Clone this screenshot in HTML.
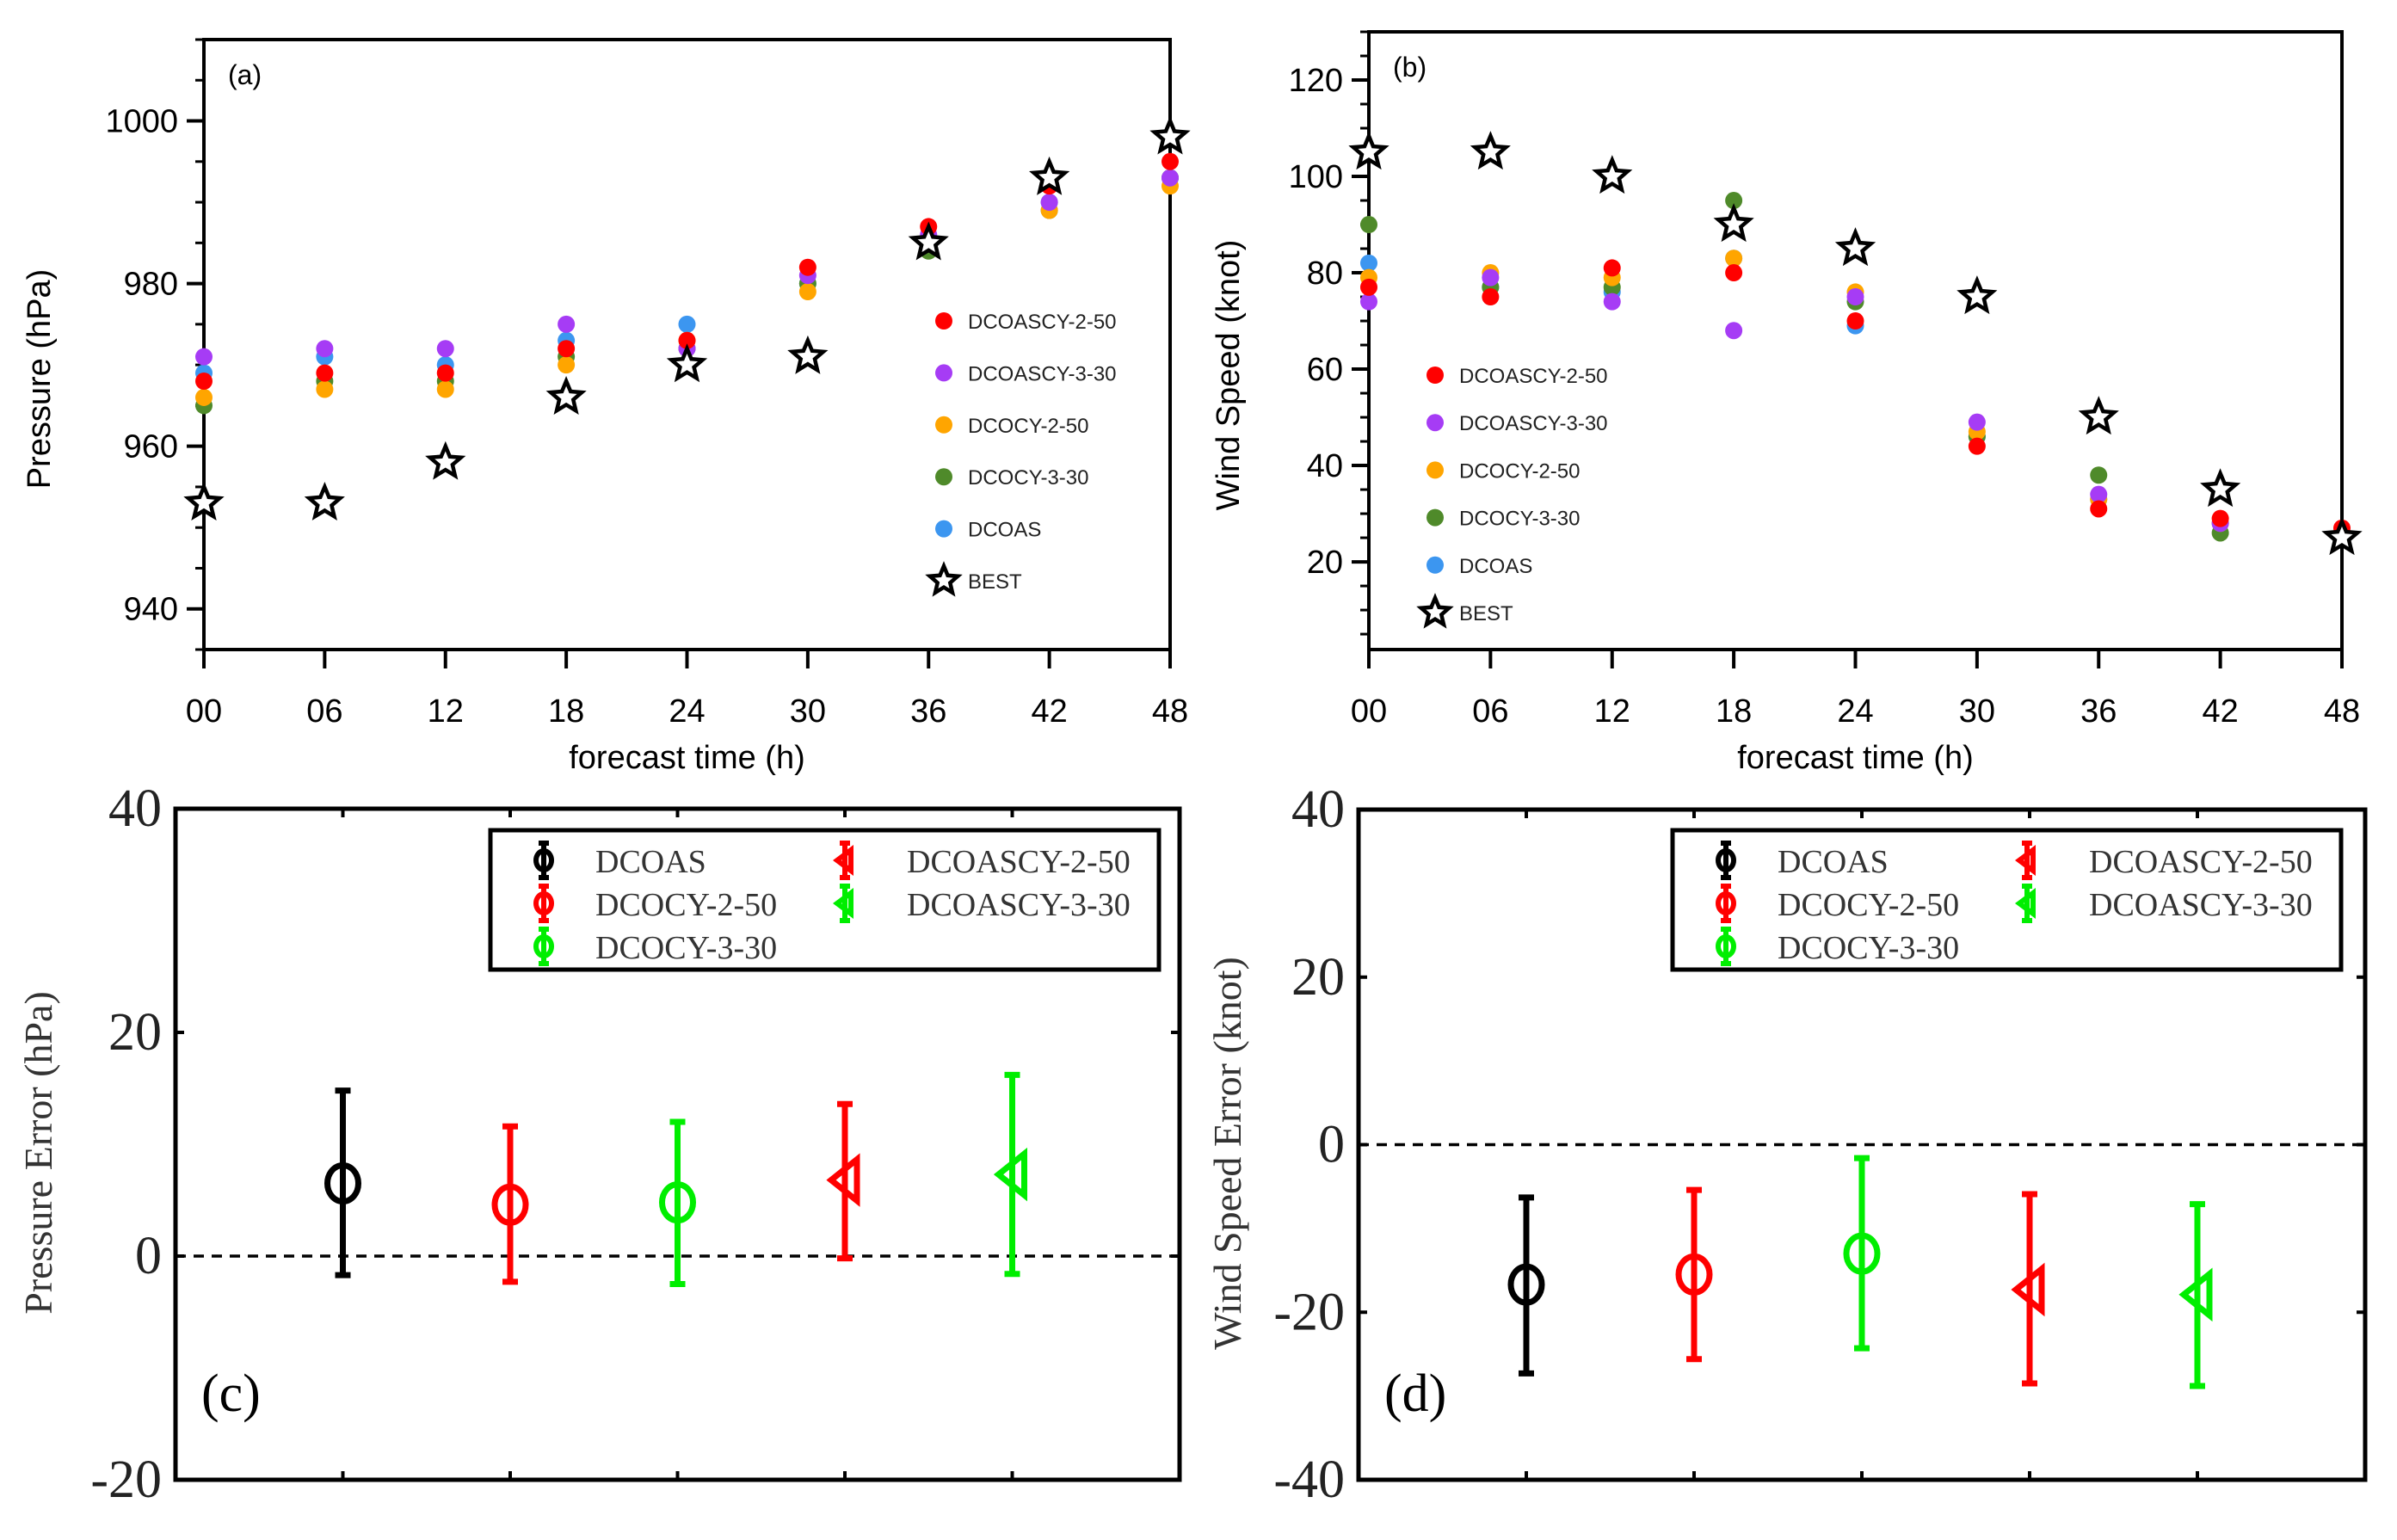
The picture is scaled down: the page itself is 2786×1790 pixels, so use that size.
<!DOCTYPE html>
<html><head><meta charset="utf-8"><style>
html,body{margin:0;padding:0;background:#fff;}
svg{display:block;}
.sans{font-family:"Liberation Sans",sans-serif;}
.serif{font-family:"Liberation Serif",serif;}
</style></head><body>
<svg id="fig" width="2786" height="1790" viewBox="0 0 2786 1790" xmlns="http://www.w3.org/2000/svg"></svg>
<script>
const times = [0,6,12,18,24,30,36,42,48];
const timeLabels = ["00","06","12","18","24","30","36","42","48"];
const seriesNames = ["DCOASCY-2-50","DCOASCY-3-30","DCOCY-2-50","DCOCY-3-30","DCOAS"];
const seriesColors = ["#ff0000","#a63cf5","#ffa500","#4f8a2a","#3c96f0"];
const presRed = [968,969,969,972,973,982,987,992,995];
const presPurple = [971,972,972,975,972,981,986,990,993];
const presOrange = [966,967,967,970,973,979,985,989,992];
const presGreen = [965,968,968,971,972,980,984,989,993];
const presBlue = [969,971,970,973,975,980,985,990,993];
const presBest = [953,953,958,966,970,971,985,993,998];
const presTicks = [940,960,980,1000];
const windRed = [77,75,81,80,70,44,31,29,27];
const windPurple = [74,79,74,68,75,49,34,28,26];
const windOrange = [79,80,79,83,76,47,33,28,26];
const windGreen = [90,77,77,95,74,46,38,26,26];
const windBlue = [82,77,76,83,69,46,33,28,26];
const windBest = [105,105,100,90,85,75,50,35,25];
const windTicks = [20,40,60,80,100,120];
const errNames = ["DCOAS","DCOCY-2-50","DCOCY-3-30","DCOASCY-2-50","DCOASCY-3-30"];
const errColors = ["#000000","#ff0000","#00ee00","#ff0000","#00ee00"];
const errMarkers = ["circle","circle","circle","tri","tri"];
const presErrMean = [6.5,4.6,4.8,6.8,7.3];
const presErrLow = [-1.7,-2.3,-2.5,-0.2,-1.6];
const presErrHigh = [14.8,11.6,12.0,13.6,16.2];
const presErrTicks = [-20,0,20,40];
const windErrMean = [-16.7,-15.5,-13,-17.3,-17.9];
const windErrLow = [-27.3,-25.6,-24.3,-28.5,-28.8];
const windErrHigh = [-6.3,-5.4,-1.6,-5.9,-7.1];
const windErrTicks = [-40,-20,0,20,40];

const NS="http://www.w3.org/2000/svg";
const svg=document.getElementById('fig');
function el(tag,attrs,parent,text){const e=document.createElementNS(NS,tag);for(const k in attrs)e.setAttribute(k,attrs[k]);if(text!==undefined)e.textContent=text;(parent||svg).appendChild(e);return e;}
function starPath(cx,cy,R){const r=R*0.45;let d='';for(let i=0;i<10;i++){const a=-Math.PI/2+i*Math.PI/5;const rr=i%2?r:R;d+=(i?'L':'M')+(cx+rr*Math.cos(a)).toFixed(1)+' '+(cy+rr*Math.sin(a)).toFixed(1);}return d+'Z';}

function scatterPanel(o){
  const g=el('g',{});
  
  
  const X=t=>o.L+(t-0)/(48)*(o.R-o.L);
  const Y=v=>o.B-(v-o.ymin)/(o.ymax-o.ymin)*(o.B-o.T);
  const frame=el('rect',{x:o.L,y:o.T,width:o.R-o.L,height:o.B-o.T,fill:'none',stroke:'#000','stroke-width':4},g);
  
  
  for(let v=Math.ceil(o.ymin/o.minor)*o.minor; v<=o.ymax; v+=o.minor){
    el('line',{x1:o.L-10,x2:o.L,y1:Y(v),y2:Y(v),stroke:'#000','stroke-width':3},g);
  }
  o.ticks.forEach(v=>{
    el('line',{x1:o.L-20,x2:o.L,y1:Y(v),y2:Y(v),stroke:'#000','stroke-width':4},g);
    const t=el('text',{x:o.L-30,y:Y(v)+13,'text-anchor':'end','font-size':38,class:'sans'},g,String(v));
    
    
  });
  times.forEach((tm,i)=>{
    el('line',{x1:X(tm),x2:X(tm),y1:o.B,y2:o.B+22,stroke:'#000','stroke-width':4},g);
    const t=el('text',{x:X(tm),y:o.B+84,'text-anchor':'middle','font-size':38,class:'sans'},g,timeLabels[i]);
    
    
  });
  const xl=el('text',{x:(o.L+o.R)/2,y:o.B+138,'text-anchor':'middle','font-size':38,class:'sans'},g,'forecast time (h)');
  
  
  const yl=el('text',{x:0,y:0,'text-anchor':'middle','font-size':38,class:'sans',transform:`translate(${o.ylx},${(o.T+o.B)/2+40}) rotate(-90)`},g,o.ylabel);
  
  
  const pl=el('text',{x:o.L+28,y:o.T+52,'font-size':32,class:'sans'},g,o.panel);
  
  
  const order=[4,3,2,1,0];
  order.forEach(si=>{
    o.series[si].forEach((v,i)=>{
      const c=el('circle',{cx:X(times[i]),cy:Y(v),r:10,fill:seriesColors[si]},g);
      
      
    });
  });
  o.best.forEach((v,i)=>{
    const s=el('path',{d:starPath(X(times[i]),Y(v),19),fill:'#fff',stroke:'#000','stroke-width':4.5,'stroke-linejoin':'miter'},g);
    
    
  });
  seriesNames.forEach((n,i)=>{
    const y=o.legY+i*o.legDy;
    const c=el('circle',{cx:o.legX,cy:y,r:10,fill:seriesColors[i]},g);
    
    
    const t=el('text',{x:o.legX+28,y:y+9,'font-size':24,class:'sans',fill:'#222'},g,n);
    
    
  });
  const y5=o.legY+5*o.legDy;
  el('path',{d:starPath(o.legX,y5,17),fill:'#fff',stroke:'#000','stroke-width':4.5},g);
  const bt=el('text',{x:o.legX+28,y:y5+9,'font-size':24,class:'sans',fill:'#222'},g,'BEST');
  
  
}

scatterPanel({name:'panel-a-pressure',L:237,R:1360,T:46,B:755,ymin:935,ymax:1010,minor:5,ticks:presTicks,
  series:[presRed,presPurple,presOrange,presGreen,presBlue],best:presBest,ylabel:'Pressure (hPa)',ylx:58,panel:'(a)',
  legX:1097,legY:373,legDy:60.4});
scatterPanel({name:'panel-b-wind-speed',L:1591,R:2722,T:37,B:755,ymin:1.8,ymax:130,minor:5,ticks:windTicks,
  series:[windRed,windPurple,windOrange,windGreen,windBlue],best:windBest,ylabel:'Wind Speed (knot)',ylx:1440,panel:'(b)',
  legX:1668,legY:436,legDy:55.2});

function errPanel(o){
  const g=el('g',{});
  
  
  const X=c=>o.L+(c+1)*(o.R-o.L)/6;
  const Y=v=>o.B-(v-o.ymin)/(o.ymax-o.ymin)*(o.B-o.T);
  const fr=el('rect',{x:o.L,y:o.T,width:o.R-o.L,height:o.B-o.T,fill:'none',stroke:'#000','stroke-width':5},g);
  
  
  o.ticks.forEach(v=>{
    el('line',{x1:o.L,x2:o.L+10,y1:Y(v),y2:Y(v),stroke:'#000','stroke-width':4},g);
    el('line',{x1:o.R-10,x2:o.R,y1:Y(v),y2:Y(v),stroke:'#000','stroke-width':4},g);
    const t=el('text',{x:o.L-16,y:Y(v)+20,'text-anchor':'end','font-size':62,class:'serif',fill:'#222'},g,String(v));
    
    
  });
  for(let c=0;c<5;c++){
    el('line',{x1:X(c),x2:X(c),y1:o.T,y2:o.T+10,stroke:'#000','stroke-width':4},g);
    el('line',{x1:X(c),x2:X(c),y1:o.B-10,y2:o.B,stroke:'#000','stroke-width':4},g);
  }
  const zl=el('line',{x1:o.L,x2:o.R,y1:Y(0),y2:Y(0),stroke:'#000','stroke-width':3.5,'stroke-dasharray':'12 9'},g);
  
  
  const yl=el('text',{x:0,y:0,'text-anchor':'middle','font-size':46,class:'serif',fill:'#333',transform:`translate(${o.ylx},${(o.T+o.B)/2+10}) rotate(-90)`},g,o.ylabel);
  
  
  const pl=el('text',{x:o.L+30,y:o.B-80,'font-size':62,class:'serif'},g,o.panel);
  
  
  for(let c=0;c<5;c++){
    const col=errColors[c], x=X(c);
    const eg=el('g',{stroke:col,fill:'none','stroke-width':7},g);
    
    
    el('line',{x1:x,x2:x,y1:Y(o.low[c]),y2:Y(o.high[c])},eg);
    el('line',{x1:x-9,x2:x+9,y1:Y(o.low[c]),y2:Y(o.low[c])},eg);
    el('line',{x1:x-9,x2:x+9,y1:Y(o.high[c]),y2:Y(o.high[c])},eg);
    const y=Y(o.mean[c]);
    if(errMarkers[c]==='circle') el('ellipse',{cx:x,cy:y,rx:18,ry:21},eg);
    else el('path',{d:`M${x+14} ${y-24} L${x-16} ${y} L${x+14} ${y+24} Z`},eg);
  }
  const lg=el('g',{},g);
  
  
  el('rect',{x:o.legL,y:965,width:o.legW,height:162,fill:'#fff',stroke:'#000','stroke-width':5},lg);
  const pos=[[0,0],[0,1],[0,2],[1,0],[1,1]];
  for(let c=0;c<5;c++){
    const col2=pos[c][0];
    const mx=o.legL+(col2?412:62), my=1000+pos[c][1]*50;
    const col=errColors[c];
    const mg=el('g',{stroke:col,fill:'none','stroke-width':6},lg);
    el('line',{x1:mx,x2:mx,y1:my-20,y2:my+20},mg);
    el('line',{x1:mx-6,x2:mx+6,y1:my-20,y2:my-20},mg);
    el('line',{x1:mx-6,x2:mx+6,y1:my+20,y2:my+20},mg);
    if(errMarkers[c]==='circle') el('ellipse',{cx:mx,cy:my,rx:9,ry:11},mg);
    else el('path',{d:`M${mx+7} ${my-12} L${mx-9} ${my} L${mx+7} ${my+12} Z`},mg);
    const t=el('text',{x:mx+(col2?72:60),y:my+14,'font-size':38,class:'serif',fill:'#333'},lg,errNames[c]);
    
    
  }
}
errPanel({name:'panel-c-pressure-error',L:204,R:1371,T:940,B:1720,ymin:-20,ymax:40,ticks:presErrTicks,
  mean:presErrMean,low:presErrLow,high:presErrHigh,ylabel:'Pressure Error (hPa)',ylx:60,panel:'(c)',legL:570,legW:777});
errPanel({name:'panel-d-wind-speed-error',L:1579,R:2749,T:941,B:1720,ymin:-40,ymax:40,ticks:windErrTicks,
  mean:windErrMean,low:windErrLow,high:windErrHigh,ylabel:'Wind Speed Error (knot)',ylx:1442,panel:'(d)',legL:1944,legW:777});
</script>
</body></html>
